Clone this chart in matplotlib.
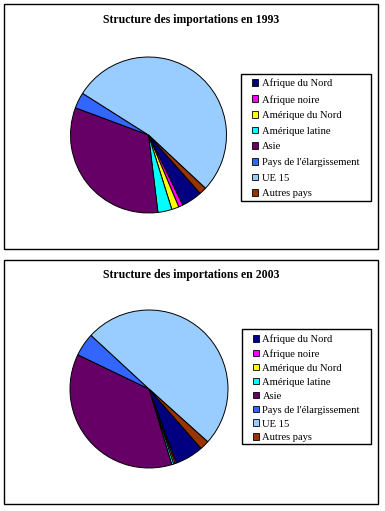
import matplotlib
matplotlib.use("Agg")
import matplotlib.pyplot as plt
from matplotlib.patches import Rectangle

plt.rcParams['font.family'] = ['Liberation Serif', 'DejaVu Serif']

categories = ["Afrique du Nord", "Afrique noire", "Amérique du Nord", "Amérique latine",
              "Asie", "Pays de l'élargissement", "UE 15", "Autres pays"]
values_1993 = [4.3, 0.9, 1.5, 2.9, 32.6, 3.3, 53.0, 1.5]
values_2003 = [5.8, 0.3, 0.3, 0.4, 36.8, 4.75, 49.8, 1.9]
colors = ["#000080", "#FF00FF", "#FFFF00", "#00FFFF", "#660066", "#3366FF", "#99CCFF", "#993300"]
titles = ["Structure des importations en 1993", "Structure des importations en 2003"]

W, H = 385, 511
fig = plt.figure(figsize=(W / 100, H / 100), dpi=100)
fig.patch.set_facecolor("white")


def fx(x):
    return x / W


def fy(y):
    return 1 - y / H


def frame(x0, y0, x1, y1, lw=1.0):
    fig.patches.append(Rectangle((fx(x0), fy(y1)), fx(x1) - fx(x0), fy(y0) - fy(y1),
                                 transform=fig.transFigure, fill=False,
                                 edgecolor="black", linewidth=lw))


panels = [
    dict(box=(4, 4, 378, 249), title_y=20, center=(148.5, 135), r=78,
         leg=(241, 74, 371, 201), leg_off=4.6, spacing=0.62, vals=values_1993, start=-48.5),
    dict(box=(4, 260, 378, 504), title_y=275, center=(149, 389), r=79,
         leg=(242, 329, 371, 444), leg_off=5.6, spacing=0.46, vals=values_2003, start=-48.8),
]

for p, title in zip(panels, titles):
    frame(*p["box"])
    fig.text(fx((p["box"][0] + p["box"][2]) / 2), fy(p["title_y"]), title,
             ha="center", va="center", fontsize=8.5, fontweight="bold")
    cx, cy = p["center"]
    r = p["r"] * 1.05
    ax = fig.add_axes([fx(cx - r), fy(cy + r), 2 * r / W, 2 * r / H])
    ax.pie(p["vals"], colors=colors, startangle=p["start"], counterclock=False,
           wedgeprops=dict(edgecolor="black", linewidth=0.7))
    ax.set_xlim(-1.05, 1.05)
    ax.set_ylim(-1.05, 1.05)
    ax.set_aspect("auto")
    ax.axis("off")
    lx0, ly0, lx1, ly1 = p["leg"]
    frame(lx0, ly0, lx1, ly1)
    handles = [Rectangle((0, 0), 1, 1, facecolor=c, edgecolor="black", linewidth=0.6)
               for c in colors]
    fig.legend(handles, categories, loc="upper left",
               bbox_to_anchor=(fx(lx0 + 11), fy(ly0 + p["leg_off"])), frameon=False,
               fontsize=7.6, borderpad=0, borderaxespad=0, handlelength=0.6,
               handleheight=0.6, handletextpad=0.3, labelspacing=p["spacing"])

fig.savefig("out.png", dpi=100, facecolor="white")
